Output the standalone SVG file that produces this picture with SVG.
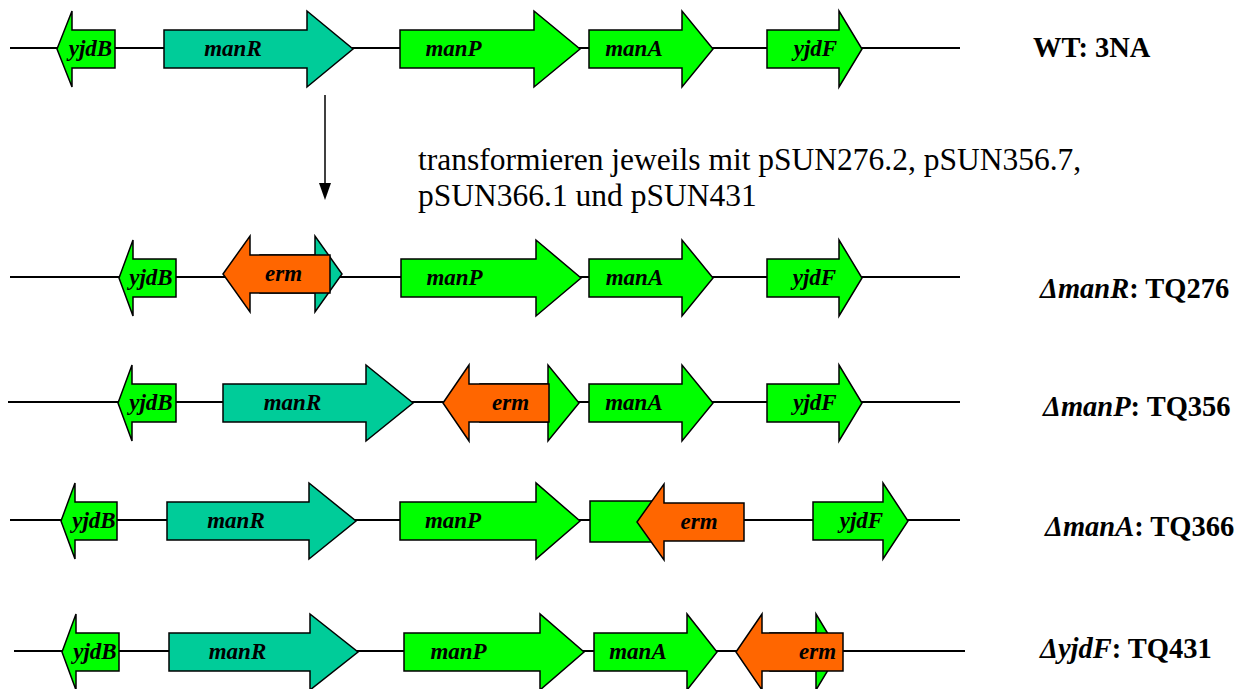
<svg xmlns="http://www.w3.org/2000/svg" width="1247" height="689" viewBox="0 0 1247 689">
<style>
.g{fill:#00FF00;stroke:#000;stroke-width:1.5;stroke-linejoin:miter}
.t{fill:#00CC99;stroke:#000;stroke-width:1.5}
.o{fill:#FF6600;stroke:#000;stroke-width:1.5}
.dna{stroke:#000;stroke-width:2;fill:none}
.lbl{font-family:"Liberation Serif","Times New Roman",serif;font-weight:bold;font-style:italic;font-size:23px;fill:#000;text-anchor:middle}
.side{font-family:"Liberation Serif","Times New Roman",serif;font-weight:bold;font-size:28.5px;fill:#000}
.note{font-family:"Liberation Serif","Times New Roman",serif;font-size:31.5px;fill:#000}
</style>
<g id="dna-lines">
<line class="dna" x1="10" y1="48" x2="960" y2="48"/>
<line class="dna" x1="10" y1="277" x2="960" y2="277"/>
<line class="dna" x1="8" y1="402" x2="960" y2="402"/>
<line class="dna" x1="10" y1="520" x2="960" y2="520"/>
<line class="dna" x1="14" y1="651" x2="965" y2="651"/>
</g>
<g id="connectors">
<line x1="325" y1="95" x2="325" y2="183" stroke="#000" stroke-width="1.5"/>
<path d="M319,183 L331,183 L325,200 Z" fill="#000"/>
</g>
<g id="row1">
<g id="r1-yjdB"><polygon class="g" points="57,49 72,11 72,30 115,30 115,68 72,68 72,87"/><text class="lbl" x="90.5" y="56">yjdB</text></g>
<g id="r1-manR"><polygon class="t" points="164,30 307,30 307,11 353,49 307,87 307,68 164,68"/><text class="lbl" x="233" y="56">manR</text></g>
<g id="r1-manP"><polygon class="g" points="400,30 534,30 534,11 580,49 534,87 534,68 400,68"/><text class="lbl" x="453.5" y="56">manP</text></g>
<g id="r1-manA"><polygon class="g" points="589,30 682,30 682,11 713,49 682,87 682,68 589,68"/><text class="lbl" x="634" y="56">manA</text></g>
<g id="r1-yjdF"><polygon class="g" points="767,30 839,30 839,11 862,49 839,87 839,68 767,68"/><text class="lbl" x="815.5" y="56">yjdF</text></g>
<text id="lab-wt" class="side" x="1033" y="57">WT: 3NA</text>
</g>
<g id="note">
<text class="note" x="418" y="170">transformieren jeweils mit pSUN276.2, pSUN356.7,</text>
<text class="note" x="418" y="206">pSUN366.1 und pSUN431</text>
</g>
<g id="row2">
<g id="r2-yjdB"><polygon class="g" points="119,278 133,240 133,259 176,259 176,297 133,297 133,316"/><text class="lbl" x="151" y="285">yjdB</text></g>
<g id="r2-manR"><polygon class="t" points="260,255 315,255 315,236 342,274 315,312 315,293 260,293"/></g>
<g id="r2-erm"><polygon class="o" points="223,274 250,236 250,255 330,255 330,293 250,293 250,312"/><text class="lbl" x="283.5" y="281">erm</text></g>
<g id="r2-manP"><polygon class="g" points="401,259 536,259 536,240 581,278 536,316 536,297 401,297"/><text class="lbl" x="454.5" y="285">manP</text></g>
<g id="r2-manA"><polygon class="g" points="589,259 682,259 682,240 713,278 682,316 682,297 589,297"/><text class="lbl" x="634.5" y="285">manA</text></g>
<g id="r2-yjdF"><polygon class="g" points="767,259 839,259 839,240 862,278 839,316 839,297 767,297"/><text class="lbl" x="814.5" y="285">yjdF</text></g>
<text id="lab-manR" class="side" x="1040" y="298"><tspan font-style="italic">Δ</tspan><tspan font-style="italic">manR</tspan>: TQ276</text>
</g>
<g id="row3">
<g id="r3-yjdB"><polygon class="g" points="118,403 132,365 132,384 176,384 176,422 132,422 132,441"/><text class="lbl" x="151" y="410">yjdB</text></g>
<g id="r3-manR"><polygon class="t" points="223,384 366,384 366,365 413,403 366,441 366,422 223,422"/><text class="lbl" x="292.5" y="410">manR</text></g>
<g id="r3-manP"><polygon class="g" points="480,384 548,384 548,365 579,403 548,441 548,422 480,422"/></g>
<g id="r3-erm"><polygon class="o" points="443,403 469,365 469,384 549,384 549,422 469,422 469,441"/><text class="lbl" x="510.5" y="410">erm</text></g>
<g id="r3-manA"><polygon class="g" points="589,384 682,384 682,365 713,403 682,441 682,422 589,422"/><text class="lbl" x="634" y="410">manA</text></g>
<g id="r3-yjdF"><polygon class="g" points="767,384 839,384 839,365 862,403 839,441 839,422 767,422"/><text class="lbl" x="815" y="410">yjdF</text></g>
<text id="lab-manP" class="side" x="1043" y="416"><tspan font-style="italic">Δ</tspan><tspan font-style="italic">manP</tspan>: TQ356</text>
</g>
<g id="row4">
<g id="r4-yjdB"><polygon class="g" points="61,521 75,483 75,502 117,502 117,540 75,540 75,559"/><text class="lbl" x="94" y="528">yjdB</text></g>
<g id="r4-manR"><polygon class="t" points="167,502 309,502 309,483 356,521 309,559 309,540 167,540"/><text class="lbl" x="236" y="528">manR</text></g>
<g id="r4-manP"><polygon class="g" points="400,502 536,502 536,483 580,521 536,559 536,540 400,540"/><text class="lbl" x="453" y="528">manP</text></g>
<g id="r4-manA"><rect class="g" x="590" y="501" width="70" height="41"/></g>
<g id="r4-erm"><polygon class="o" points="637,522 664,484 664,503 744,503 744,541 664,541 664,560"/><text class="lbl" x="699" y="529">erm</text></g>
<g id="r4-yjdF"><polygon class="g" points="813,502 883,502 883,483 908,521 883,559 883,540 813,540"/><text class="lbl" x="861.5" y="528">yjdF</text></g>
<text id="lab-manA" class="side" x="1045" y="536"><tspan font-style="italic">Δ</tspan><tspan font-style="italic">manA</tspan>: TQ366</text>
</g>
<g id="row5">
<g id="r5-yjdB"><polygon class="g" points="62,652 76,614 76,633 119,633 119,671 76,671 76,690"/><text class="lbl" x="95" y="659">yjdB</text></g>
<g id="r5-manR"><polygon class="t" points="169,633 310,633 310,614 358,652 310,690 310,671 169,671"/><text class="lbl" x="237.5" y="659">manR</text></g>
<g id="r5-manP"><polygon class="g" points="404,633 540,633 540,614 584,652 540,690 540,671 404,671"/><text class="lbl" x="458.5" y="659">manP</text></g>
<g id="r5-manA"><polygon class="g" points="594,633 687,633 687,614 717,652 687,690 687,671 594,671"/><text class="lbl" x="638" y="659">manA</text></g>
<g id="r5-yjdF"><polygon class="g" points="770,633 816,633 816,614 839,652 816,690 816,671 770,671"/></g>
<g id="r5-erm"><polygon class="o" points="736,652 762,614 762,633 843,633 843,671 762,671 762,690"/><text class="lbl" x="817.5" y="659">erm</text></g>
<text id="lab-yjdF" class="side" x="1040" y="658"><tspan font-style="italic">Δ</tspan><tspan font-style="italic">yjdF</tspan>: TQ431</text>
</g>
</svg>
